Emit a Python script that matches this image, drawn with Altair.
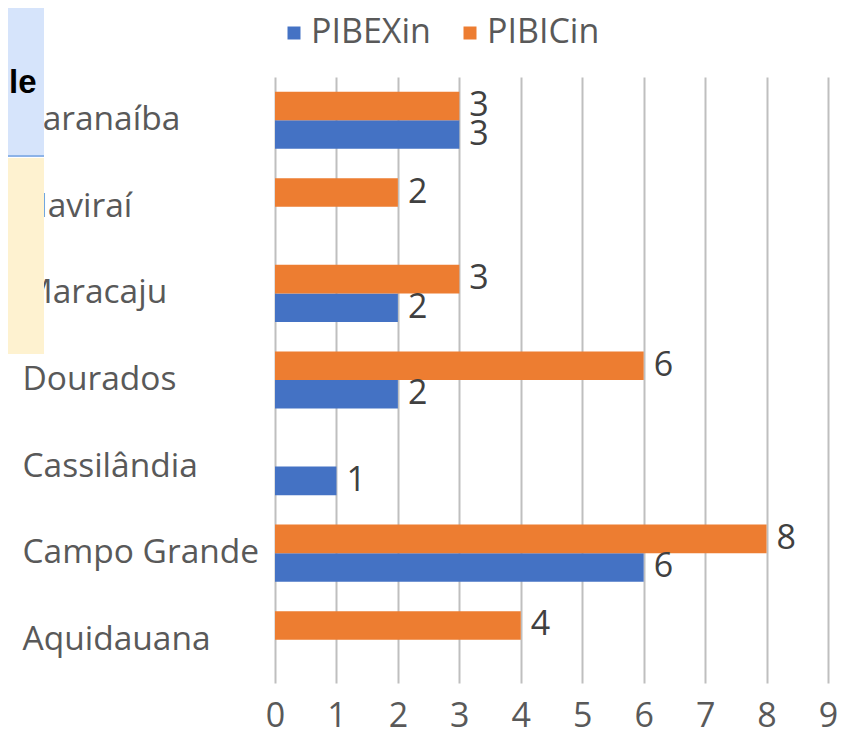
import altair as alt
import pandas as pd

categories = ["Paranaíba", "Naviraí", "Maracaju", "Dourados", "Cassilândia", "Campo Grande", "Aquidauana"]
series = ["PIBEXin", "PIBICin"]
pibexin = [3, None, 2, 2, 1, 6, None]
pibicin = [3, 2, 3, 6, None, 8, 4]
x_ticks = [0, 1, 2, 3, 4, 5, 6, 7, 8, 9]
colors = ["#4472C4", "#ED7D31"]

rows = []
for c, a, b in zip(categories, pibexin, pibicin):
    if a is not None:
        rows.append({"campus": c, "serie": "PIBEXin", "valor": a})
    if b is not None:
        rows.append({"campus": c, "serie": "PIBICin", "valor": b})
df = pd.DataFrame(rows)

FONT = "Open Sans"
FS = 34

y_enc = alt.Y("campus:N", sort=categories,
              scale=alt.Scale(paddingInner=0.34, paddingOuter=0.17),
              axis=alt.Axis(title=None, labelAlign="left", labelPadding=253, labelLimit=400,
                            labelFontSize=33.5, labelColor="#595959", labelFont=FONT,
                            ticks=False, tickSize=0, domain=False, grid=False, zindex=0))
yoff = alt.YOffset("serie:N", sort=["PIBICin", "PIBEXin"], scale=alt.Scale(paddingInner=0, paddingOuter=0))
x_enc = alt.X("valor:Q", scale=alt.Scale(domain=[0, 9], nice=False),
              axis=alt.Axis(title=None, values=x_ticks, format="d", grid=True, gridColor="#BFBFBF",
                            gridWidth=2, domain=False, ticks=False, labelFontSize=FS,
                            labelColor="#595959", labelFont=FONT, labelPadding=16,
                            labelFlush=False, zindex=0))

bars = alt.Chart(df).mark_bar().encode(
    y=y_enc, yOffset=yoff, x=x_enc,
    color=alt.Color("serie:N", scale=alt.Scale(domain=series, range=colors),
                    legend=alt.Legend(title=None, orient="none", legendX=2, legendY=-61,
                                      direction="horizontal", symbolType="square", symbolSize=169,
                                      symbolStrokeWidth=0, labelFontSize=FS, labelColor="#595959",
                                      labelFont=FONT, labelOffset=0, columnPadding=22, padding=0)),
)

labels = alt.Chart(df).mark_text(align="left", baseline="middle", dx=10, fontSize=FS,
                                 font=FONT, color="#404040").encode(
    y=alt.Y("campus:N", sort=categories), yOffset=yoff, x="valor:Q", text="valor:Q"
)

# overlay panel fragment at the top-left (from the source screenshot)
deco = pd.DataFrame({"k": [0]})
blue_box = alt.Chart(deco).mark_rect(color="#D6E4FB").encode(
    x=alt.value(-275), x2=alt.value(-231), y=alt.value(-77), y2=alt.value(79))
blue_line = alt.Chart(deco).mark_rect(color="#8DB3E8").encode(
    x=alt.value(-275), x2=alt.value(-231), y=alt.value(78), y2=alt.value(80))
yellow_box = alt.Chart(deco).mark_rect(color="#FEF2D0").encode(
    x=alt.value(-275), x2=alt.value(-231), y=alt.value(81), y2=alt.value(277))
le_text = alt.Chart(deco).mark_text(text="le", align="left", baseline="alphabetic", fontSize=33,
                                    fontWeight="bold", font="Liberation Sans", color="#000000").encode(
    x=alt.value(-266), y=alt.value(16))

chart = alt.layer(bars, labels, blue_box, blue_line, yellow_box, le_text).properties(
    width=553, height=606,
    autosize=alt.AutoSizeParams(type="none"),
    padding={"left": 267, "top": 69, "right": 10, "bottom": 58},
).configure_view(stroke=None)

chart.save("out.html", embed_options={"renderer": "svg", "actions": False})
